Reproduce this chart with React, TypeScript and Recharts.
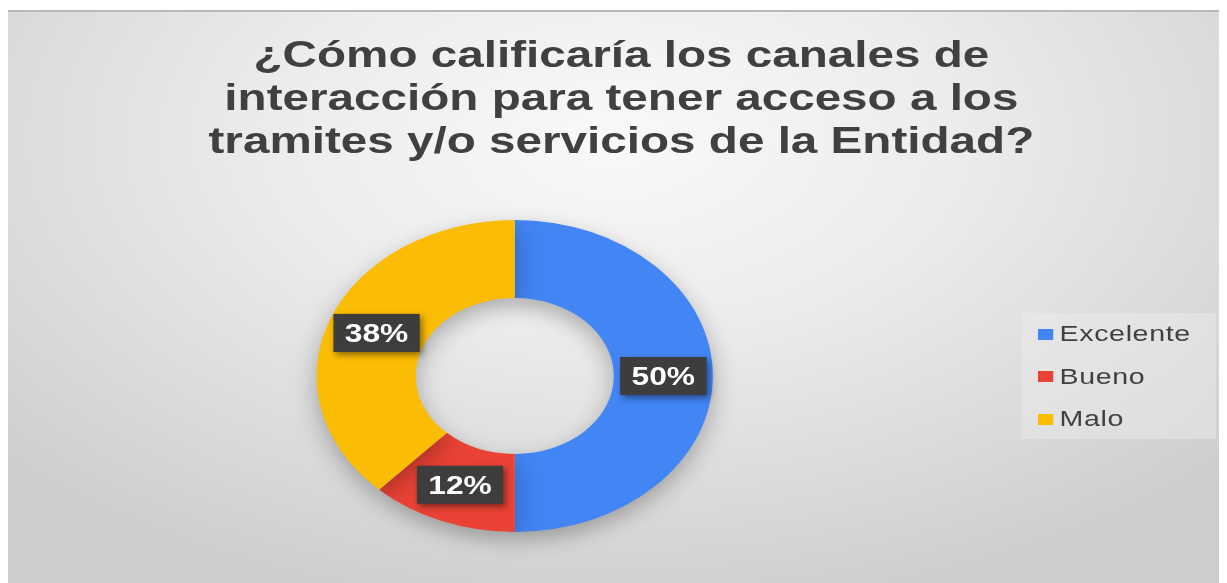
import React from "react";
import { PieChart, Pie, Cell, Legend } from "recharts";

const categories = ["Excelente", "Bueno", "Malo"];
const values = [50, 12, 38];
const colors = ["#4285F4", "#EA4335", "#FBBC04"];
const titleLines = [
  "¿Cómo calificaría los canales de",
  "interacción para tener acceso a los",
  "tramites y/o servicios de la Entidad?",
];

const data = categories.map((name, i) => ({ name, value: values[i] }));

const SX = 1.27;
const W = 956;
const H = 575;
const RAD = Math.PI / 180;

const renderLabel = (props: any) => {
  const { cx, cy, midAngle, innerRadius, outerRadius, percent } = props;
  const r = (innerRadius + outerRadius) / 2;
  const x = cx + r * Math.cos(-midAngle * RAD);
  const y = cy + r * Math.sin(-midAngle * RAD);
  const bw = 68;
  const bh = 38;
  return (
    <g>
      <rect
        x={x - bw / 2}
        y={y - bh / 2}
        width={bw}
        height={bh}
        fill="#3d3d3d"
        style={{ filter: "drop-shadow(2px 3px 3px rgba(0,0,0,0.45))" }}
      />
      <text
        x={x}
        y={y + 9}
        textAnchor="middle"
        fill="#ffffff"
        fontFamily="'Liberation Sans', Arial, sans-serif"
        fontWeight="bold"
        fontSize={25}
      >
        {`${Math.round(percent * 100)}%`}
      </text>
    </g>
  );
};

const renderLegend = () => {
  return (
    <div
      style={{
        background: "rgba(238,238,238,0.45)",
        width: 153,
        height: 126,
        boxSizing: "border-box",
        paddingLeft: 13,
      }}
    >
      {data.map((d, i) => (
        <div
          key={d.name}
          style={{
            display: "flex",
            alignItems: "center",
            height: 42.5,
            lineHeight: "42.5px",
          }}
        >
          <span
            style={{
              display: "inline-block",
              width: 12,
              height: 11,
              background: colors[i],
              marginRight: 5,
            }}
          />
          <span
            style={{
              fontFamily: "'Liberation Sans', Arial, sans-serif",
              fontSize: 22.5,
              color: "#404040",
              letterSpacing: 0.5,
            }}
          >
            {d.name}
          </span>
        </div>
      ))}
    </div>
  );
};

export default function App() {
  return (
    <div style={{ position: "relative", width: 1219, height: 575, marginTop: 2, overflow: "hidden" }}>
      <style>{`.pie-shadow .recharts-pie-sector { filter: drop-shadow(0px 8px 10px rgba(0,0,0,0.28)); }`}</style>
      <div
        style={{
          position: "absolute",
          left: 0,
          top: 0,
          width: W,
          height: H,
          transform: `scaleX(${SX})`,
          transformOrigin: "0 0",
        }}
      >
        <div
          style={{
            position: "absolute",
            left: 0,
            top: 0,
            width: W,
            height: H,
            background:
              "radial-gradient(ellipse 70% 85% at 50% 22%, #f9f9f9 0%, #ececec 40%, #dadada 75%, #cdcdcd 100%)",
            borderTop: "2px solid #b8b8b8",
            boxSizing: "border-box",
          }}
        />
        <div
          style={{
            position: "absolute",
            left: 0,
            top: 23,
            width: 966,
            textAlign: "center",
            fontFamily: "'Liberation Sans', Arial, sans-serif",
            fontWeight: "bold",
            fontSize: 37.5,
            lineHeight: "43px",
            color: "#404040",
            whiteSpace: "nowrap",
          }}
        >
          {titleLines.map((t, i) => (
            <div key={i}>{t}</div>
          ))}
        </div>
        <div className="pie-shadow" style={{ position: "absolute", left: 0, top: 0 }}>
          <PieChart width={W} height={H} margin={{ top: 0, right: 0, bottom: 0, left: 0 }}>
            <Pie
              data={data}
              dataKey="value"
              nameKey="name"
              cx={399}
              cy={366}
              innerRadius={78}
              outerRadius={156}
              startAngle={90}
              endAngle={-270}
              stroke="none"
              labelLine={false}
              label={renderLabel}
              isAnimationActive={false}
            >
              {data.map((d, i) => (
                <Cell key={d.name} fill={colors[i]} />
              ))}
            </Pie>
            <Legend
              content={renderLegend}
              wrapperStyle={{ position: "absolute", left: 798, top: 303, width: 153, height: 126 }}
            />
          </PieChart>
        </div>
      </div>
    </div>
  );
}
